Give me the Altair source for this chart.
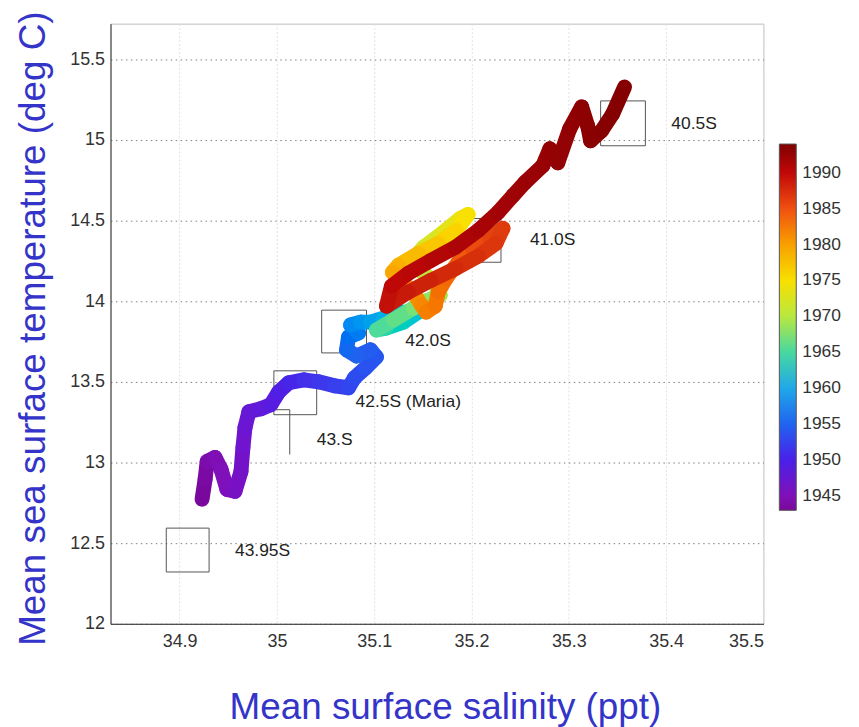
import altair as alt
import pandas as pd

# ---- trajectory ----
years = [1943.0, 1943.5, 1944.0, 1944.5, 1945.0, 1945.5, 1946.0, 1946.5, 1947.0, 1947.5,
         1948.0, 1948.5, 1949.0, 1949.5, 1950.0, 1950.5, 1951.0, 1951.5, 1952.0, 1952.5,
         1953.0, 1953.5, 1954.0, 1954.5, 1955.0, 1955.5, 1956.0, 1957.0, 1958.0, 1959.0,
         1960.0, 1961.0, 1962.0, 1963.0, 1964.0, 1965.0, 1966.0, 1967.0, 1968.0, 1969.0,
         1969.5, 1970.0, 1971.0, 1972.0, 1973.0, 1974.0, 1974.5, 1975.5, 1976.5, 1977.5,
         1978.5, 1979.0, 1980.0, 1981.0, 1981.5, 1982.0, 1982.5, 1983.0, 1983.5, 1984.0,
         1985.0, 1986.0, 1986.5, 1987.0, 1987.5, 1988.0, 1988.5, 1989.0, 1989.5, 1990.0,
         1990.3, 1990.6, 1991.0, 1991.3, 1991.6, 1992.0, 1992.2, 1992.4, 1992.55, 1992.7,
         1992.85, 1993.0, 1993.15, 1993.3, 1993.45, 1993.6, 1993.75]
salinity = [34.9231, 34.9262, 34.9283, 34.9364, 34.9426, 34.9487, 34.9569, 34.9631, 34.9651, 34.9672,
            34.9713, 34.9835, 34.9938, 35.0020, 35.0122, 35.0276, 35.0429, 35.0593, 35.0736, 35.0798,
            35.0911, 35.1023, 35.0962, 35.0818, 35.0716, 35.0736, 35.0839, 35.0757, 35.0859, 35.0962,
            35.1095, 35.1248, 35.1453, 35.1300, 35.1126, 35.1023, 35.1197, 35.1402, 35.1556, 35.1678,
            35.1617, 35.1535, 35.1371, 35.1504, 35.1709, 35.1883, 35.1965, 35.1842, 35.1658, 35.1453,
            35.1248, 35.1187, 35.1269, 35.1402, 35.1484, 35.1535, 35.1627, 35.1658, 35.1740, 35.1863,
            35.2016, 35.2190, 35.2323, 35.2252, 35.2068, 35.1842, 35.1586, 35.1351, 35.1126, 35.1177,
            35.1351, 35.1586, 35.1832, 35.2068, 35.2272, 35.2426, 35.2549, 35.2733, 35.2805, 35.2887,
            35.3009, 35.3132, 35.3194, 35.3224, 35.3337, 35.3450, 35.3573]
temperature = [12.772, 12.895, 13.006, 13.031, 12.957, 12.833, 12.821, 12.944, 13.093, 13.216,
               13.315, 13.333, 13.358, 13.438, 13.494, 13.512, 13.500, 13.475, 13.463, 13.525,
               13.586, 13.654, 13.698, 13.660, 13.698, 13.778, 13.802, 13.852, 13.870, 13.870,
               13.895, 13.932, 13.932, 13.870, 13.833, 13.821, 13.883, 13.957, 14.006, 14.037,
               14.111, 14.160, 14.235, 14.333, 14.426, 14.512, 14.537, 14.438, 14.358, 14.296,
               14.222, 14.179, 14.130, 14.056, 13.975, 13.932, 13.969, 14.056, 14.142, 14.241,
               14.315, 14.389, 14.451, 14.358, 14.278, 14.204, 14.130, 14.056, 13.969, 14.093,
               14.173, 14.253, 14.333, 14.438, 14.549, 14.654, 14.735, 14.840, 14.944, 14.858,
               15.068, 15.204, 15.086, 14.994, 15.056, 15.160, 15.327]

# ---- station boxes ----
box_names = ["40.5S", "41.0S", "42.0S", "42.5S", "43.95S"]
box_sal_lo = [35.3327, 35.1883, 35.0460, 34.9969, 34.8863]
box_sal_hi = [35.3787, 35.2303, 35.0921, 35.0409, 34.9303]
box_tmp_lo = [14.963, 14.241, 13.679, 13.296, 12.321]
box_tmp_hi = [15.241, 14.512, 13.944, 13.568, 12.593]

# 43.S box: only top and right edges visible
edge_sal1 = [34.9672, 35.0132]
edge_sal2 = [35.0132, 35.0132]
edge_tmp1 = [13.327, 13.327]
edge_tmp2 = [13.327, 13.049]

# ---- station labels ----
label_text = ["40.5S", "41.0S", "42.0S", "42.5S (Maria)", "43.S", "43.95S"]
label_sal = [35.4054, 35.2600, 35.1320, 35.0808, 35.0409, 34.9569]
label_tmp = [15.099, 14.377, 13.753, 13.377, 13.142, 12.451]

# ---- axes / colour bar ----
x_ticks = [34.9, 35.0, 35.1, 35.2, 35.3, 35.4, 35.5]
y_ticks = [12, 12.5, 13, 13.5, 14, 14.5, 15, 15.5]
cbar_ticks = [1945, 1950, 1955, 1960, 1965, 1970, 1975, 1980, 1985, 1990]
cmap_years = [1943, 1945, 1950, 1955, 1960, 1965, 1970, 1975, 1980, 1985, 1990, 1994]
cmap_colors = ["#780898", "#8010b8", "#4a20e8", "#2064f0", "#20a8e8", "#48d8a0",
               "#b8e840", "#f8e000", "#f8a000", "#f05010", "#c00808", "#800000"]

FONT = "Liberation Sans"
TITLE_COLOR = "#3434c8"

seg = pd.DataFrame({
    "s1": salinity[:-1], "t1": temperature[:-1],
    "s2": salinity[1:], "t2": temperature[1:],
    "year": [(a + b) / 2 for a, b in zip(years[:-1], years[1:])],
    "order": list(range(len(years) - 1)),
})
boxes = pd.DataFrame({"name": box_names, "s1": box_sal_lo, "s2": box_sal_hi,
                      "t1": box_tmp_lo, "t2": box_tmp_hi})
edges = pd.DataFrame({"s1": edge_sal1, "s2": edge_sal2, "t1": edge_tmp1, "t2": edge_tmp2})
labels = pd.DataFrame({"text": label_text, "s": label_sal, "t": label_tmp})

xscale = alt.Scale(domain=[34.829, 35.5], nice=False, zero=False)
yscale = alt.Scale(domain=[12, 15.72], nice=False, zero=False)

x_axis = alt.Axis(title="Mean surface salinity (ppt)", values=x_ticks, format="~g",
                  grid=True, gridColor="#e2e2e2", gridDash=[2, 2], ticks=False,
                  labelPadding=9, labelFontSize=18, labelFont=FONT, labelColor="#333",
                  domainColor="#333", titleFontSize=37, titleFont=FONT,
                  titleFontWeight="normal", titleColor=TITLE_COLOR, titlePadding=39,
                  titleX=336)
y_axis = alt.Axis(title="Mean sea surface temperature (deg C)", values=y_ticks, format="~g",
                  grid=True, gridColor="#808080", gridDash=[1.5, 3.5], ticks=False,
                  labelPadding=6, labelFontSize=18, labelFont=FONT, labelColor="#333",
                  domainColor="#333", titleFontSize=37, titleFont=FONT,
                  titleFontWeight="normal", titleColor=TITLE_COLOR, titlePadding=17,
                  titleY=306)

box_layer = alt.Chart(boxes).mark_rect(fillOpacity=0, stroke="#555", strokeWidth=1).encode(
    x=alt.X("s1:Q", scale=xscale, axis=x_axis),
    x2="s2:Q",
    y=alt.Y("t1:Q", scale=yscale, axis=y_axis),
    y2="t2:Q",
)
edge_layer = alt.Chart(edges).mark_rule(stroke="#555", strokeWidth=1).encode(
    x=alt.X("s1:Q", scale=xscale, axis=x_axis),
    x2="s2:Q",
    y=alt.Y("t1:Q", scale=yscale, axis=y_axis),
    y2="t2:Q",
)
traj = alt.Chart(seg).mark_rule(strokeWidth=15, strokeCap="round").encode(
    x=alt.X("s1:Q", scale=xscale, axis=x_axis),
    x2="s2:Q",
    y=alt.Y("t1:Q", scale=yscale, axis=y_axis),
    y2="t2:Q",
    color=alt.Color("year:Q",
                    scale=alt.Scale(domain=cmap_years, range=cmap_colors),
                    legend=alt.Legend(orient="none", legendX=672, legendY=121,
                                      direction="vertical", gradientLength=368,
                                      gradientThickness=17, title=None,
                                      values=cbar_ticks, format="d",
                                      labelFontSize=17.5, labelFont=FONT,
                                      labelColor="#333", labelOffset=6,
                                      labelOverlap=False, padding=0,
                                      gradientStrokeColor="#555",
                                      gradientStrokeWidth=1)),
    order="order:Q",
)
text_layer = alt.Chart(labels).mark_text(align="left", baseline="middle", fontSize=17.5,
                                         font=FONT, color="#222").encode(
    x=alt.X("s:Q", scale=xscale, axis=x_axis),
    y=alt.Y("t:Q", scale=yscale, axis=y_axis),
    text="text:N",
)

chart = alt.layer(box_layer, edge_layer, traj, text_layer).properties(
    width=656, height=603,
    autosize=alt.AutoSizeParams(type="none"),
    padding={"left": 103, "top": 14, "right": 88, "bottom": 102},
    background="white",
).configure_view(stroke="#bbb")

chart.save("out.html", embed_options={"renderer": "svg", "actions": False})
